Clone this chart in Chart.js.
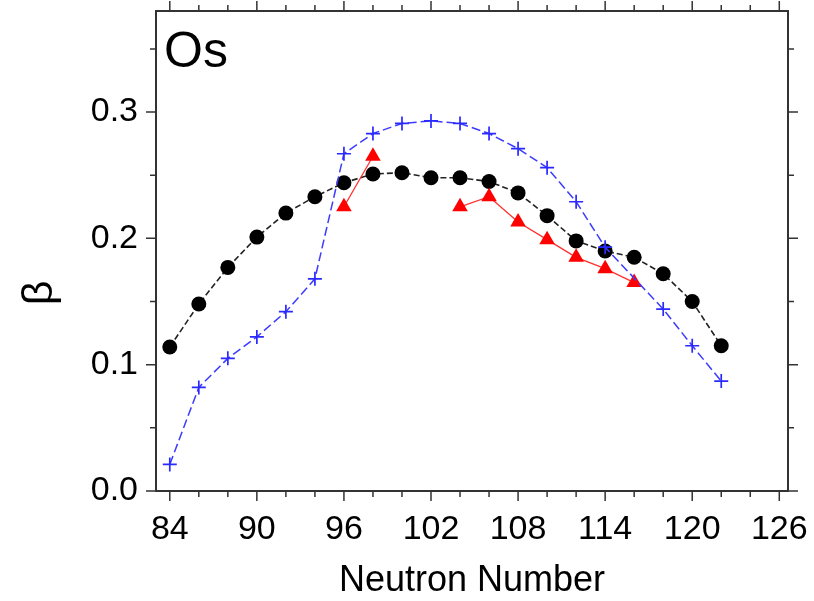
<!DOCTYPE html>
<html>
<head>
<meta charset="utf-8">
<script src="https://cdn.jsdelivr.net/npm/chart.js@4.4.1/dist/chart.umd.min.js"></script>
<style>
  html, body { margin: 0; padding: 0; background: #fff; }
  #wrap { width: 814px; height: 601px; }
</style>
</head>
<body>
<div id="wrap"><canvas id="betaChart" width="814" height="601"></canvas></div>
<script>
// neutron numbers and deformation values
const neutrons = [84, 86, 88, 90, 92, 94, 96, 98, 100, 102, 104, 106, 108, 110, 112, 114, 116, 118, 120, 122];
const betaBlack = [0.114, 0.148, 0.177, 0.201, 0.220, 0.233, 0.244, 0.251, 0.252, 0.248, 0.248, 0.245, 0.236, 0.218, 0.198, 0.190, 0.185, 0.172, 0.150, 0.115];
const betaBlue = [0.021, 0.082, 0.105, 0.122, 0.142, 0.168, 0.267, 0.283, 0.291, 0.293, 0.291, 0.283, 0.271, 0.256, 0.229, 0.193, null, 0.144, 0.115, 0.087];
const betaRed = [null, null, null, null, null, null, 0.225, 0.265, null, null, 0.225, 0.233, 0.213, 0.199, 0.185, 0.176, 0.165, null, null, null];
const xTicks = [84, 90, 96, 102, 108, 114, 120, 126];
const yTicks = [0.0, 0.1, 0.2, 0.3];

const FONT = '"Liberation Sans", Arial, sans-serif';

const toPoints = (vals) => neutrons.map((n, i) => ({ x: n, y: vals[i] }));

// no extra room for the end labels, the plot box is fixed
const noPad = (s) => { s.paddingLeft = 0; s.paddingRight = 0; s.paddingTop = 0; s.paddingBottom = 0; };

// frame, outer ticks and the free text labels
const framePlugin = {
  id: 'frame',
  afterDraw(chart) {
    const { ctx, chartArea: a, scales: { x, y } } = chart;
    ctx.save();
    ctx.strokeStyle = '#333';
    ctx.lineWidth = 2;
    ctx.strokeRect(a.left, a.top, a.right - a.left, a.bottom - a.top);

    ctx.lineWidth = 1.5;
    ctx.beginPath();
    for (let v = xTicks[0]; v <= x.max; v += 2) {
      const px = x.getPixelForValue(v);
      const len = xTicks.includes(v) ? 10 : 6;
      ctx.moveTo(px, a.bottom); ctx.lineTo(px, a.bottom + len);
      ctx.moveTo(px, a.top); ctx.lineTo(px, a.top - len);
    }
    for (let k = 0; k * 0.05 <= y.max + 1e-9; k++) {
      const py = y.getPixelForValue(k * 0.05);
      const len = k % 2 === 0 ? 10 : 6;
      ctx.moveTo(a.left, py); ctx.lineTo(a.left - len, py);
      ctx.moveTo(a.right, py); ctx.lineTo(a.right + len, py);
    }
    ctx.stroke();

    ctx.fillStyle = '#000';
    ctx.font = '50px ' + FONT;
    ctx.textAlign = 'left';
    ctx.textBaseline = 'alphabetic';
    ctx.fillText('Os', 164, 67);

    ctx.font = '36px ' + FONT;
    ctx.textAlign = 'center';
    ctx.fillText('Neutron Number', (a.left + a.right) / 2, 591);

    ctx.translate(40, 293);
    ctx.rotate(-Math.PI / 2);
    ctx.font = '43px ' + FONT;
    ctx.textBaseline = 'middle';
    ctx.fillText('β', 0, 0);
    ctx.restore();
  }
};

new Chart(document.getElementById('betaChart'), {
  type: 'line',
  data: {
    datasets: [
      {
        data: toPoints(betaBlue),
        borderColor: '#3c3cff',
        borderWidth: 1.5,
        borderDash: [9, 4],
        pointStyle: 'cross',
        pointRadius: 7,
        pointBorderWidth: 1.7,
        pointBorderColor: '#2a2aff',
        spanGaps: true
      },
      {
        data: toPoints(betaRed),
        borderColor: '#ff3030',
        borderWidth: 1.3,
        pointStyle: 'triangle',
        pointRadius: 9,
        pointBackgroundColor: '#ff0000',
        pointBorderColor: '#ff0000',
        pointBorderWidth: 0,
        spanGaps: false
      },
      {
        data: toPoints(betaBlack),
        borderColor: '#222',
        borderWidth: 1.6,
        borderDash: [6, 3],
        pointStyle: 'circle',
        pointRadius: 7.5,
        pointBackgroundColor: '#000',
        pointBorderColor: '#000',
        pointBorderWidth: 0
      }
    ]
  },
  options: {
    responsive: false,
    animation: false,
    layout: { padding: { top: 11, right: 26, left: 0, bottom: 0 } },
    plugins: { legend: { display: false }, tooltip: { enabled: false } },
    scales: {
      x: {
        type: 'linear',
        min: 83.05,
        max: 126.6,
        afterBuildTicks: (s) => { s.ticks = xTicks.map(v => ({ value: v })); },
        afterFit: (s) => { s.height = 110; noPad(s); },
        grid: { display: false, drawTicks: false },
        border: { display: false },
        ticks: {
          padding: 18,
          color: '#000',
          font: { family: FONT, size: 34 },
          maxRotation: 0,
          autoSkip: false
        }
      },
      y: {
        min: 0,
        max: 0.38,
        afterBuildTicks: (s) => { s.ticks = yTicks.map(v => ({ value: v })); },
        afterFit: (s) => { s.width = 156; noPad(s); },
        grid: { display: false, drawTicks: false },
        border: { display: false },
        ticks: {
          padding: 18,
          color: '#000',
          font: { family: FONT, size: 34 },
          callback: (v) => v.toFixed(1)
        }
      }
    }
  },
  plugins: [framePlugin]
});
</script>
</body>
</html>
